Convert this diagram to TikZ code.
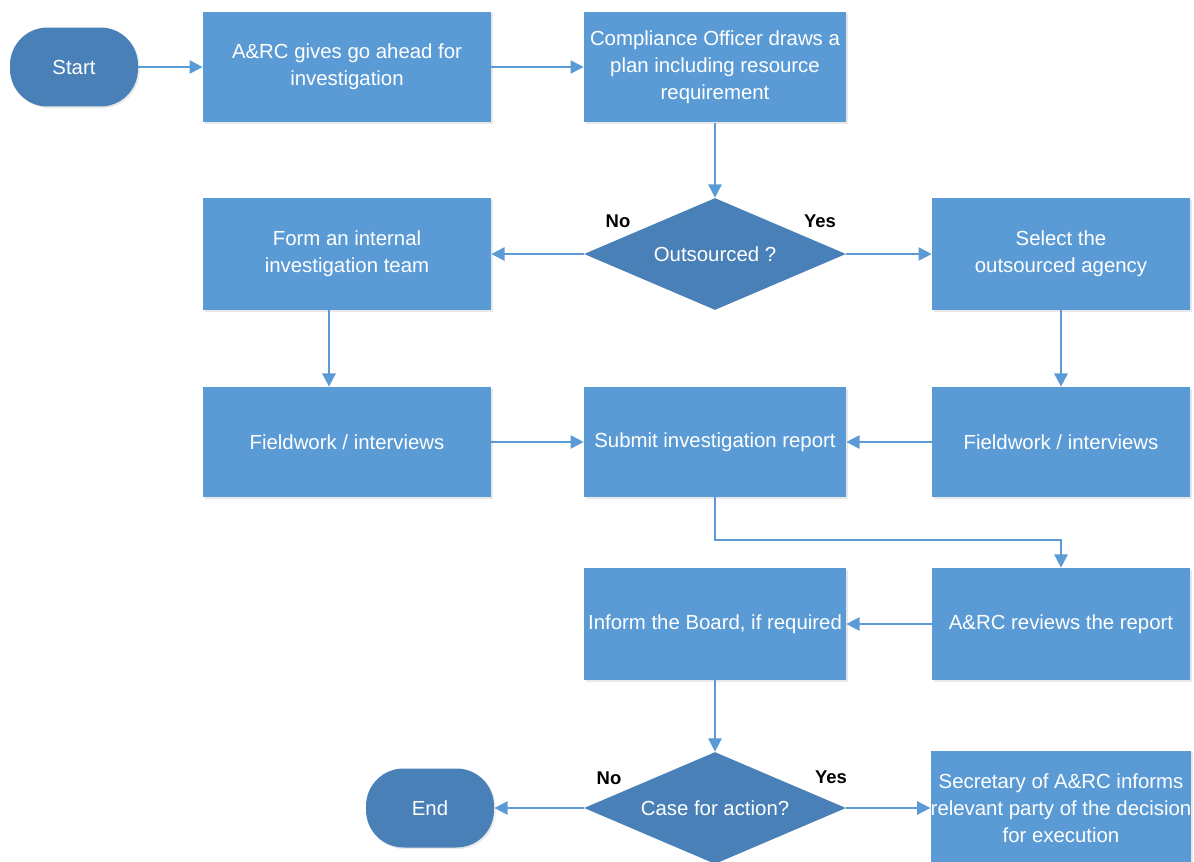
\documentclass[tikz,border=0pt]{standalone}
\usepackage{fontspec}
\setmainfont{Liberation Sans}
\usetikzlibrary{shapes.geometric,arrows.meta,shadows}
\definecolor{boxblue}{HTML}{5B9BD5}
\definecolor{darkblue}{HTML}{4A80B8}
\definecolor{lineblue}{HTML}{5B9BD5}
\begin{document}
\begin{tikzpicture}[x=0.02cm,y=-0.02cm,
  proc/.style={rectangle, fill=boxblue, text=white, align=center,
    font=\fontsize{11.6}{15.3}\selectfont, inner sep=0pt,
    drop shadow={opacity=0.18,shadow xshift=0.9pt,shadow yshift=-0.9pt}},
  term/.style={rectangle, rounded corners=0.75cm, fill=darkblue, text=white,
    font=\fontsize{11.6}{15.3}\selectfont, minimum width=2.56cm, minimum height=1.58cm,
    inner sep=0pt, drop shadow={opacity=0.18,shadow xshift=0.9pt,shadow yshift=-0.9pt}},
  dec/.style={diamond, fill=darkblue, text=white, aspect=2.34,
    font=\fontsize{11.6}{15.3}\selectfont, minimum width=5.24cm, minimum height=2.24cm, inner sep=0pt},
  lbl/.style={font=\bfseries\fontsize{10.5}{12}\selectfont, text=black},
  arr/.style={draw=lineblue, line width=1.1pt, -{Triangle[length=7.5pt,width=7.5pt]}},
]
\useasboundingbox[fill=white] (0,0) rectangle (1194,862);
\begin{scope}
\clip (0,0) rectangle (1194,862);
% row 1
\node[term] (start) at (74,67) {Start};
\node[proc, minimum width=5.76cm, minimum height=2.22cm] (b1) at (347,67) {A\&RC gives go ahead for\\investigation};
\node[proc, minimum width=5.24cm, minimum height=2.22cm] (b2) at (715,67) {Compliance Officer draws a\\plan including resource\\requirement};
% row 2
\node[proc, minimum width=5.76cm, minimum height=2.24cm] (form) at (347,254) {Form an internal\\investigation team};
\node[dec] (d1) at (715,254) {Outsourced ?};
\node[proc, minimum width=5.16cm, minimum height=2.24cm] (sel) at (1061,254) {Select the\\outsourced agency};
% row 3
\node[proc, minimum width=5.76cm, minimum height=2.2cm] (fl) at (347,442) {Fieldwork / interviews};
\node[proc, minimum width=5.24cm, minimum height=2.2cm] (sub) at (715,442) {Submit investigation report};
\node[proc, minimum width=5.16cm, minimum height=2.2cm] (fr) at (1061,442) {Fieldwork / interviews};
% row 4
\node[proc, minimum width=5.24cm, minimum height=2.24cm] (inf) at (715,624) {Inform the Board, if required};
\node[proc, minimum width=5.16cm, minimum height=2.24cm] (rev) at (1061,624) {A\&RC reviews the report};
% row 5
\node[term] (end) at (430,808) {End};
\node[dec] (d2) at (715,808) {Case for action?};
\node[proc, minimum width=5.16cm, minimum height=2.3cm] (sec) at (1061,808) {Secretary of A\&RC informs\\relevant party of the decision\\for execution};
% labels
\node[lbl] (no1) at (618,221) {No};
\node[lbl] (yes1) at (820,221) {Yes};
\node[lbl] (no2) at (609,778) {No};
\node[lbl] (yes2) at (831,777) {Yes};
% connectors
\coordinate (lx) at (329,0);
\draw[arr] (start) -- (b1);
\draw[arr] (b1) -- (b2);
\draw[arr] (b2) -- (d1);
\draw[arr] (d1.west) -- (form.east);
\draw[arr] (d1.east) -- (sel.west);
\draw[arr] (form.south -| lx) -- (fl.north -| lx);
\draw[arr] (sel) -- (fr);
\draw[arr] (fl) -- (sub);
\draw[arr] (fr) -- (sub);
\draw[arr] (sub.south) -- ++(0,43) -| (rev.north);
\draw[arr] (rev) -- (inf);
\draw[arr] (inf) -- (d2);
\draw[arr] (d2.west) -- (end.east);
\draw[arr] (d2.east) -- (sec.west);
\end{scope}
\end{tikzpicture}
\end{document}
